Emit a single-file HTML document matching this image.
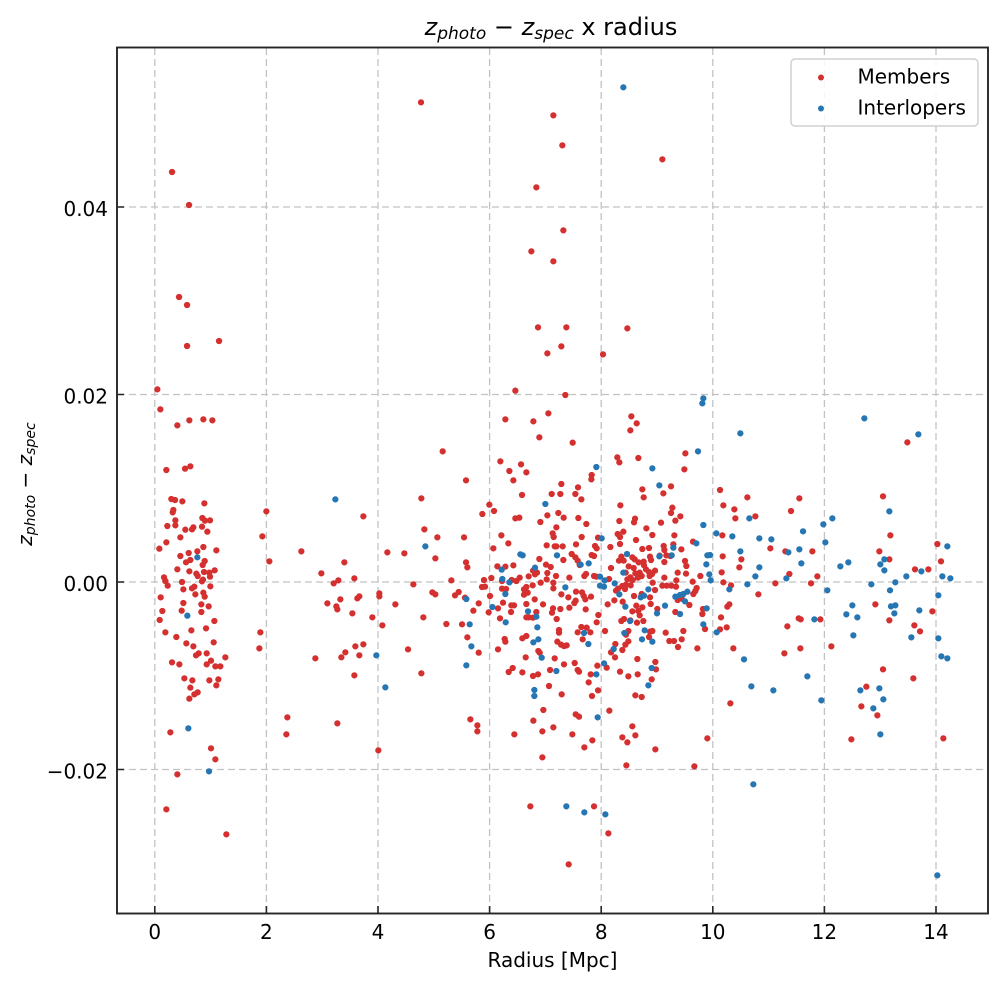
<!DOCTYPE html>
<html><head><meta charset="utf-8"><style>html,body{margin:0;padding:0;background:#fff}svg{display:block}text{font-family:"DejaVu Sans","Liberation Sans",sans-serif;fill:#000}</style></head>
<body>
<svg width="1004" height="985" viewBox="0 0 1004 985" xmlns="http://www.w3.org/2000/svg">
<rect width="1004" height="985" fill="#fff"/>
<g stroke="#c2c2c2" stroke-width="1.3" stroke-dasharray="7 4" fill="none">
<path d="M154.8 48V913M266.4 48V913M378 48V913M489.6 48V913M601.2 48V913M712.8 48V913M824.4 48V913M936 48V913"/>
<path d="M118 207H988M118 394.5H988M118 582H988M118 769.5H988"/>
</g>
<g fill="none" stroke-linecap="round">
<path stroke="#d4302f" stroke-width="6.3" d="M172 172h.1M189 205h.1M179 297h.1M187 305h.1M187 346h.1M219 341h.1"/>
<g transform="translate(130,370) scale(0.33333)">
<path stroke="#d4302f" stroke-width="18.8" d="M82 58h.1M91 118h.1M142 166h.1M178 151h.1M220 148h.1M247 151h.1M109 300h.1M165 296h.1M181 289h.1M124 387h.1M135 390h.1M157 394h.1M223 400h.1M128 427h.1M130 420h.1M136 451h.1M217 444h.1M225 452h.1M240 451h.1M112 468h.1M136 466h.1M166 479h.1M186 478h.1M190 472h.1M216 470h.1M232 485h.1M151 502h.1M109 517h.1M88 536h.1M220 531h.1M259 541h.1M151 558h.1M176 549h.1M202 544h.1M168 577h.1M181 570h.1M218 585h.1M224 573h.1M142 598h.1M178 604h.1M199 611h.1M203 618h.1M222 606h.1M238 608h.1M254 601h.1M102 622h.1M106 633h.1M113 647h.1M156 636h.1M160 658h.1M186 655h.1M193 650h.1M216 634h.1M219 629h.1M240 620h.1M241 649h.1M196 673h.1M220 668h.1M224 680h.1M92 682h.1M160 699h.1M214 703h.1M236 709h.1M97 723h.1M155 722h.1M214 726h.1M89 750h.1M253 753h.1M184 781h.1M228 775h.1M106 787h.1M139 801h.1M169 820h.1M190 829h.1M251 817h.1M198 856h.1M206 850h.1M230 850h.1M286 862h.1M126 877h.1M148 883h.1M230 883h.1M243 872h.1M256 889h.1M271 889h.1M163 925h.1M187 931h.1M238 931h.1M265 928h.1M259 946h.1M181 953h.1M193 973h.1M203 967h.1M178 986h.1M121 1087h.1M243 1135h.1M256 1168h.1M142 1213h.1M109 1318h.1M289 1393h.1"/>
<path stroke="#2676b3" stroke-width="18.8" d="M202 562h.1M172 737h.1M175 1075h.1M237 1204h.1"/>
</g>
<g transform="translate(440,440) scale(0.33333)">
<path stroke="#d4302f" stroke-width="18.8" d="M8 34h.1M398 8h.1M181 64h.1M243 73h.1M208 93h.1M259 97h.1M220 121h.1M78 121h.1M455 105h.1M454 118h.1M364 132h.1M414 142h.1M335 162h.1M361 162h.1M406 162h.1M424 178h.1M246 165h.1M148 194h.1M162 213h.1M127 222h.1M226 235h.1M238 233h.1M301 246h.1M322 226h.1M355 219h.1M371 233h.1M415 234h.1M439 252h.1M349 262h.1M338 280h.1M341 291h.1M72 292h.1M184 286h.1M425 291h.1M474 293h.1M205 310h.1M320 316h.1M344 319h.1M349 319h.1M368 319h.1M408 313h.1M160 325h.1M465 318h.1M470 325h.1M395 342h.1M455 345h.1M462 348h.1M298 357h.1M370 360h.1M406 352h.1M413 362h.1M78 367h.1M82 382h.1M172 379h.1M196 380h.1M220 376h.1M318 374h.1M332 381h.1M279 392h.1M419 375h.1M285 403h.1M291 398h.1M266 409h.1M322 399h.1M239 413h.1M215 420h.1M154 414h.1M433 408h.1M438 402h.1M462 408h.1M469 410h.1M348 408h.1M388 413h.1M320 418h.1M34 421h.1M132 420h.1M126 441h.1M135 440h.1M186 423h.1M229 423h.1M278 436h.1M302 428h.1M340 428h.1M186 446h.1M198 447h.1M252 448h.1M259 441h.1M263 458h.1M252 464h.1M56 456h.1M45 466h.1M75 473h.1M150 468h.1M364 463h.1M385 472h.1M408 455h.1M426 457h.1M431 468h.1M453 470h.1M340 445h.1M116 490h.1M189 488h.1M214 496h.1M222 496h.1M284 478h.1M259 492h.1M309 493h.1M403 489h.1M407 482h.1M436 478h.1M100 512h.1M146 517h.1M174 505h.1M213 516h.1M339 505h.1M336 518h.1M361 507h.1M388 503h.1M437 508h.1M259 532h.1M267 532h.1M279 533h.1M289 516h.1M350 537h.1M475 525h.1M180 535h.1M470 547h.1M19 552h.1M66 553h.1M82 592h.1M116 638h.1M194 597h.1M196 605h.1M247 595h.1M259 588h.1M424 561h.1M440 563h.1M451 577h.1M413 577h.1M357 570h.1M357 578h.1M428 598h.1M352 605h.1M363 614h.1M372 618h.1M380 616h.1M174 628h.1M257 652h.1M295 633h.1M299 638h.1M344 655h.1M404 669h.1M372 673h.1M413 690h.1M417 695h.1M330 690h.1M472 677h.1M218 684h.1M206 696h.1M247 697h.1M279 708h.1M294 703h.1M452 703h.1M446 727h.1M327 738h.1M365 763h.1M456 768h.1M474 751h.1M310 810h.1M91 838h.1M407 823h.1M417 830h.1"/>
</g>
<g transform="translate(600,440) scale(0.33333)">
<path stroke="#d4302f" stroke-width="18.8" d="M52 52h.1M58 67h.1M115 54h.1M256 40h.1M253 88h.1M127 148h.1M131 172h.1M190 160h.1M213 139h.1M61 196h.1M217 203h.1M213 219h.1M226 242h.1M241 229h.1M58 243h.1M105 236h.1M102 247h.1M183 248h.1M139 265h.1M53 282h.1M60 291h.1M70 275h.1M108 300h.1M157 285h.1M223 286h.1M279 305h.1M60 312h.1M31 321h.1M127 327h.1M147 324h.1M191 318h.1M193 330h.1M220 313h.1M244 328h.1M64 350h.1M57 362h.1M71 362h.1M97 352h.1M104 358h.1M116 367h.1M131 365h.1M150 350h.1M153 360h.1M179 347h.1M199 346h.1M211 348h.1M33 384h.1M86 379h.1M101 384h.1M132 376h.1M138 388h.1M147 396h.1M165 392h.1M193 366h.1M255 363h.1M259 378h.1M77 398h.1M91 412h.1M106 400h.1M119 398h.1M125 408h.1M149 408h.1M156 402h.1M233 398h.1M258 401h.1M27 417h.1M82 418h.1M98 420h.1M114 413h.1M158 428h.1M193 413h.1M229 421h.1M301 408h.1M67 438h.1M77 435h.1M92 436h.1M187 437h.1M200 437h.1M214 437h.1M278 425h.1M290 444h.1M286 453h.1M48 452h.1M54 446h.1M75 447h.1M102 468h.1M125 462h.1M150 472h.1M165 450h.1M228 440h.1M233 480h.1M245 476h.1M268 495h.1M280 462h.1M23 493h.1M43 481h.1M68 485h.1M109 497h.1M115 513h.1M127 502h.1M152 492h.1M172 507h.1M226 516h.1M309 507h.1M307 522h.1M64 543h.1M72 537h.1M97 514h.1M111 548h.1M119 526h.1M130 543h.1M91 541h.1M15 573h.1M85 573h.1M78 584h.1M150 575h.1M157 573h.1M147 591h.1M197 578h.1M250 573h.1M208 603h.1M222 603h.1M245 598h.1M85 604h.1M76 614h.1M67 630h.1M46 612h.1M33 637h.1M45 652h.1M234 621h.1M292 625h.1M112 657h.1M166 666h.1M168 688h.1M60 695h.1M85 709h.1M113 703h.1M155 718h.1M106 766h.1M125 771h.1M28 812h.1M20 683h.1M315 567h.1"/>
</g>
<g transform="translate(420,80) scale(0.33333)">
<path stroke="#d4302f" stroke-width="18.8" d="M3 67h.1M400 106h.1M427 196h.1M727 238h.1M349 322h.1M430 451h.1M334 514h.1M400 544h.1M354 742h.1M439 742h.1M622 745h.1M424 799h.1M382 820h.1M549 823h.1M286 932h.1M436 945h.1M256 1018h.1M340 1024h.1M385 1000h.1M634 1009h.1M650 1030h.1M631 1051h.1M358 1072h.1"/>
</g>
<g transform="translate(720,400) scale(0.33333)">
<path stroke="#d4302f" stroke-width="18.8" d="M0 270h.1M10 316h.1M82 292h.1M43 328h.1M46 355h.1M106 349h.1M7 406h.1M213 333h.1M238 295h.1M8 469h.1M64 478h.1M58 502h.1M151 445h.1M196 454h.1M277 454h.1M5 517h.1M10 547h.1M33 556h.1M208 522h.1M292 529h.1M166 550h.1M273 550h.1M115 583h.1M22 620h.1M28 613h.1M3 652h.1M20 682h.1M0 688h.1M236 655h.1M242 658h.1M301 658h.1M202 679h.1M40 745h.1M193 760h.1M241 745h.1M334 739h.1M31 910h.1M489 289h.1M511 406h.1M478 454h.1M508 478h.1M562 127h.1M466 613h.1M508 661h.1M585 508h.1M625 508h.1M652 432h.1M663 484h.1M637 634h.1M583 676h.1M600 694h.1M489 808h.1M439 860h.1M580 835h.1M424 919h.1M472 946h.1M394 1018h.1M670 1015h.1"/>
</g>
<g transform="translate(420,718) scale(0.33333)">
<path stroke="#d4302f" stroke-width="18.8" d="M172 22h.1M172 40h.1M283 49h.1M340 8h.1M367 40h.1M400 28h.1M457 49h.1M517 67h.1M493 88h.1M367 118h.1M607 58h.1M622 73h.1M637 25h.1M646 52h.1M706 94h.1M619 142h.1M862 61h.1M823 145h.1M331 265h.1M522 265h.1M565 346h.1M446 439h.1"/>
</g>
<g transform="translate(225,470) scale(0.33333)">
<path stroke="#d4302f" stroke-width="18.8" d="M124 124h.1M112 199h.1M133 274h.1M229 244h.1M415 139h.1M358 277h.1M289 310h.1M326 340h.1M340 331h.1M388 325h.1M307 400h.1M334 409h.1M337 418h.1M346 388h.1M382 430h.1M397 385h.1M403 379h.1M442 442h.1M463 370h.1M463 379h.1M472 466h.1M487 247h.1M538 250h.1M589 85h.1M598 178h.1M637 202h.1M631 265h.1M565 343h.1M622 367h.1M631 373h.1M511 403h.1M595 442h.1M106 487h.1M103 535h.1M271 565h.1M349 562h.1M361 547h.1M391 529h.1M415 523h.1M403 556h.1M388 616h.1M549 538h.1M589 610h.1M187 742h.1M184 793h.1M337 760h.1M460 841h.1"/>
</g>
<g transform="translate(440,440) scale(0.33333)">
<path stroke="#2676b3" stroke-width="18.8" d="M469 81h.1M316 192h.1M241 343h.1M248 346h.1M351 346h.1M285 383h.1M422 374h.1M446 370h.1M185 389h.1M187 417h.1M208 427h.1M196 462h.1M79 477h.1M157 501h.1M264 514h.1M289 530h.1M376 442h.1M197 547h.1M89 553h.1M292 562h.1M280 607h.1M295 598h.1M94 619h.1M305 653h.1M432 579h.1M445 612h.1M79 676h.1M349 693h.1M469 703h.1M283 750h.1M283 768h.1M473 832h.1"/>
</g>
<g transform="translate(600,440) scale(0.33333)">
<path stroke="#2676b3" stroke-width="18.8" d="M294 34h.1M157 85h.1M178 136h.1M310 255h.1M349 280h.1M289 310h.1M220 323h.1M178 349h.1M215 346h.1M5 295h.1M322 346h.1M330 345h.1M319 373h.1M81 342h.1M70 398h.1M328 403h.1M332 421h.1M0 410h.1M14 421h.1M44 430h.1M0 437h.1M12 440h.1M58 463h.1M76 500h.1M122 472h.1M132 467h.1M145 448h.1M226 470h.1M240 465h.1M250 462h.1M262 455h.1M255 484h.1M195 497h.1M171 520h.1M240 522h.1M320 505h.1M310 553h.1M350 577h.1M90 543h.1M73 579h.1M134 571h.1M126 598h.1M157 605h.1M41 627h.1M12 670h.1M155 684h.1M145 736h.1"/>
</g>
<g transform="translate(420,80) scale(0.33333)">
<path stroke="#2676b3" stroke-width="18.8" d="M610 22h.1M850 955h.1M847 970h.1"/>
</g>
<g transform="translate(720,400) scale(0.33333)">
<path stroke="#2676b3" stroke-width="18.8" d="M61 100h.1M433 55h.1M595 103h.1M88 355h.1M37 409h.1M118 415h.1M154 418h.1M249 394h.1M310 373h.1M337 355h.1M61 454h.1M118 502h.1M106 529h.1M82 553h.1M28 568h.1M205 457h.1M238 448h.1M244 490h.1M199 535h.1M316 427h.1M322 571h.1M361 499h.1M385 487h.1M283 658h.1M72 778h.1M94 859h.1M160 871h.1M262 829h.1M304 901h.1M100 1153h.1M397 616h.1M379 643h.1M412 652h.1M400 706h.1M454 553h.1M481 493h.1M493 478h.1M493 511h.1M508 334h.1M510 571h.1M526 547h.1M513 619h.1M526 616h.1M523 640h.1M559 529h.1M604 514h.1M598 631h.1M574 712h.1M667 529h.1M691 535h.1M682 439h.1M655 586h.1M655 715h.1M664 769h.1M682 775h.1M421 871h.1M478 865h.1M490 898h.1M460 925h.1M481 1003h.1M652 1426h.1"/>
</g>
<g transform="translate(420,718) scale(0.33333)">
<path stroke="#2676b3" stroke-width="18.8" d="M439 265h.1M493 283h.1M556 289h.1"/>
</g>
<g transform="translate(225,470) scale(0.33333)">
<path stroke="#2676b3" stroke-width="18.8" d="M331 88h.1M601 229h.1M454 556h.1M481 652h.1"/>
</g>
</g>
<rect x="117" y="47.5" width="871" height="866" fill="none" stroke="#262626" stroke-width="1.9"/>
<g stroke="#262626" stroke-width="1.6">
<path d="M154.8 913V906M266.4 913V906M378 913V906M489.6 913V906M601.2 913V906M712.8 913V906M824.4 913V906M936 913V906"/>
<path d="M117 207H124M117 394.5H124M117 582H124M117 769.5H124"/>
</g>
<g font-size="20" text-anchor="middle">
<text x="154.8" y="939">0</text><text x="266.4" y="939">2</text><text x="378" y="939">4</text><text x="489.6" y="939">6</text><text x="601.2" y="939">8</text><text x="712.8" y="939">10</text><text x="824.4" y="939">12</text><text x="936" y="939">14</text>
</g>
<g font-size="20" text-anchor="end">
<text x="108" y="216">0.04</text><text x="108" y="403.5">0.02</text><text x="108" y="591">0.00</text><text x="108" y="778.5">−0.02</text>
</g>
<text x="552.5" y="967" font-size="20" text-anchor="middle">Radius [Mpc]</text>
<text transform="translate(32,484) rotate(-90)" font-size="20" text-anchor="middle"><tspan font-style="italic">z</tspan><tspan font-style="italic" font-size="14" dy="3">photo</tspan><tspan dy="-3"> − </tspan><tspan font-style="italic">z</tspan><tspan font-style="italic" font-size="14" dy="3">spec</tspan></text>
<text x="551" y="35" font-size="24" text-anchor="middle"><tspan font-style="italic">z</tspan><tspan font-style="italic" font-size="17" dy="4">photo</tspan><tspan dy="-4"> − </tspan><tspan font-style="italic">z</tspan><tspan font-style="italic" font-size="17" dy="4">spec</tspan><tspan dy="-4"> x radius</tspan></text>
<rect x="791" y="59" width="187" height="67" rx="4" ry="4" fill="#fff" fill-opacity="0.85" stroke="#d0d0d0" stroke-width="1.5"/>
<circle cx="821" cy="77.5" r="3" fill="#d4302f"/>
<circle cx="821" cy="108.5" r="3" fill="#2676b3"/>
<text x="857.5" y="83.5" font-size="20">Members</text>
<text x="857.5" y="114.5" font-size="20">Interlopers</text>
</svg>
</body></html>
